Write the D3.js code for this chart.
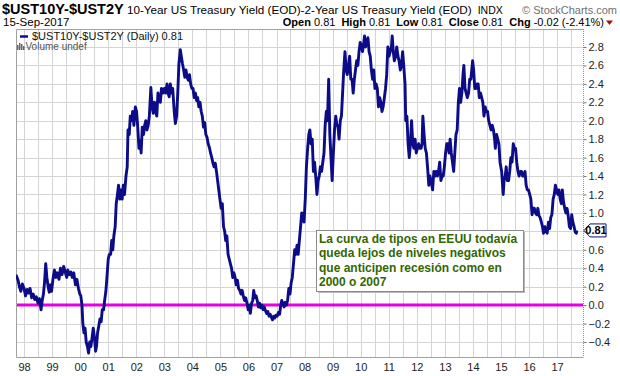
<!DOCTYPE html>
<html><head><meta charset="utf-8">
<script src="https://cdn.jsdelivr.net/npm/d3@7"></script>
<style>
body{margin:0;background:#fff}
svg{display:block}
text{font-family:"Liberation Sans",Arial,sans-serif}
</style>
</head><body>
<svg id="chart" width="620" height="376"></svg>
<script>
// ---- data (10y - 2y spread) ----
const series = [
["1997-09-18",0.33],["1997-10-15",0.27],["1997-11-01",0.20],["1997-11-20",0.15],["1997-12-10",0.23],
["1998-01-01",0.18],["1998-01-20",0.10],["1998-02-10",0.17],["1998-03-01",0.13],["1998-03-20",0.18],["1998-04-10",0.08],["1998-05-01",0.12],["1998-05-20",0.06],["1998-06-10",0.09],["1998-07-01",0.02],["1998-07-20",0.07],["1998-08-10",-0.05],["1998-08-25",0.05],["1998-09-10",0.12],["1998-09-25",0.25],["1998-10-10",0.45],["1998-10-25",0.30],["1998-11-10",0.20],["1998-11-25",0.14],["1998-12-10",0.22],["1998-12-25",0.15],
["1999-01-15",0.30],["1999-02-01",0.38],["1999-02-20",0.30],["1999-03-10",0.35],["1999-04-01",0.28],["1999-04-20",0.40],["1999-05-10",0.33],["1999-06-01",0.42],["1999-06-20",0.36],["1999-07-10",0.30],["1999-07-25",0.38],["1999-08-10",0.33],["1999-09-01",0.36],["1999-09-20",0.30],["1999-10-10",0.35],["1999-11-01",0.22],["1999-11-20",0.28],["1999-12-10",0.18],["1999-12-28",0.12],
["2000-01-10",0.10],["2000-01-25",0.00],["2000-02-05",-0.20],["2000-02-20",-0.30],["2000-03-05",-0.25],["2000-03-20",-0.40],["2000-04-05",-0.45],["2000-04-20",-0.52],["2000-05-05",-0.40],["2000-05-20",-0.45],["2000-06-05",-0.35],["2000-06-20",-0.25],["2000-07-05",-0.35],["2000-07-20",-0.50],["2000-08-01",-0.45],["2000-08-15",-0.30],["2000-09-01",-0.22],["2000-09-15",-0.15],["2000-10-01",-0.18],["2000-10-15",-0.05],["2000-11-01",-0.05],["2000-11-15",0.05],["2000-12-01",0.15],["2000-12-15",0.30],
["2001-01-01",0.50],["2001-01-15",0.55],["2001-02-01",0.55],["2001-02-15",0.70],["2001-03-01",0.60],["2001-03-15",0.75],["2001-04-01",0.85],["2001-04-15",1.10],["2001-05-01",1.20],["2001-05-15",1.30],["2001-06-01",1.15],["2001-06-15",1.25],["2001-07-01",1.15],["2001-07-15",1.30],["2001-08-01",1.20],["2001-08-20",1.40],["2001-09-05",1.50],["2001-09-15",1.90],["2001-10-01",1.85],["2001-10-15",2.05],["2001-11-01",2.00],["2001-11-15",2.10],["2001-12-01",1.95],["2001-12-20",2.15],
["2002-01-05",2.10],["2002-01-20",1.93],["2002-02-05",1.70],["2002-02-20",1.78],["2002-03-05",1.65],["2002-03-20",1.93],["2002-04-05",1.85],["2002-04-20",1.95],["2002-05-05",2.00],["2002-05-20",1.90],["2002-06-05",1.95],["2002-06-20",2.05],["2002-07-10",2.36],["2002-07-25",2.15],["2002-08-10",2.08],["2002-08-25",2.20],["2002-09-10",2.10],["2002-09-25",2.05],["2002-10-10",2.30],["2002-10-25",2.25],["2002-11-10",2.20],["2002-11-25",2.35],["2002-12-15",2.30],
["2003-01-01",2.35],["2003-01-20",2.30],["2003-02-05",2.40],["2003-02-20",2.30],["2003-03-05",2.26],["2003-03-20",2.40],["2003-04-05",2.30],["2003-04-20",2.35],["2003-05-10",2.10],["2003-05-25",1.97],["2003-06-10",2.05],["2003-06-25",2.30],["2003-07-10",2.62],["2003-07-28",2.77],["2003-08-10",2.70],["2003-08-25",2.62],["2003-09-10",2.55],["2003-09-25",2.47],["2003-10-10",2.55],["2003-10-25",2.47],["2003-11-10",2.44],["2003-11-25",2.50],["2003-12-10",2.40],["2003-12-25",2.35],
["2004-01-10",2.35],["2004-01-25",2.25],["2004-02-10",2.30],["2004-02-25",2.22],["2004-03-10",2.25],["2004-03-25",2.15],["2004-04-10",2.20],["2004-04-25",2.10],["2004-05-10",2.05],["2004-05-25",1.93],["2004-06-10",1.98],["2004-06-25",1.85],["2004-07-10",1.82],["2004-07-25",1.75],["2004-08-10",1.71],["2004-08-25",1.65],["2004-09-10",1.60],["2004-09-25",1.54],["2004-10-10",1.50],["2004-10-25",1.54],["2004-11-10",1.45],["2004-11-25",1.35],["2004-12-10",1.25],["2004-12-25",1.15],
["2005-01-10",1.05],["2005-01-25",1.10],["2005-02-10",0.85],["2005-02-25",0.80],["2005-03-10",0.70],["2005-03-25",0.75],["2005-04-10",0.55],["2005-04-25",0.50],["2005-05-10",0.45],["2005-05-25",0.40],["2005-06-10",0.30],["2005-06-25",0.35],["2005-07-10",0.30],["2005-07-25",0.22],["2005-08-10",0.27],["2005-08-25",0.18],["2005-09-10",0.16],["2005-09-25",0.12],["2005-10-10",0.16],["2005-10-25",0.10],["2005-11-10",0.05],["2005-11-25",0.08],["2005-12-10",0.03],["2005-12-28",-0.05],
["2006-01-10",0.00],["2006-01-25",-0.09],["2006-02-10",0.02],["2006-02-25",0.05],["2006-03-10",0.16],["2006-03-25",0.08],["2006-04-10",0.10],["2006-04-25",0.05],["2006-05-10",-0.02],["2006-05-25",0.02],["2006-06-10",-0.03],["2006-06-25",0.00],["2006-07-10",-0.05],["2006-07-25",-0.02],["2006-08-10",-0.06],["2006-08-25",-0.09],["2006-09-10",-0.07],["2006-09-25",-0.12],["2006-10-10",-0.10],["2006-10-25",-0.13],["2006-11-10",-0.16],["2006-11-25",-0.12],["2006-12-10",-0.14],["2006-12-25",-0.11],
["2007-01-10",-0.12],["2007-01-25",-0.08],["2007-02-10",-0.10],["2007-02-25",0.00],["2007-03-10",0.05],["2007-03-25",0.02],["2007-04-10",-0.02],["2007-04-25",0.03],["2007-05-10",0.00],["2007-05-25",0.05],["2007-06-10",0.18],["2007-06-25",0.12],["2007-07-10",0.24],["2007-07-25",0.30],["2007-08-10",0.45],["2007-08-25",0.60],["2007-09-10",0.55],["2007-09-25",0.65],["2007-10-10",0.55],["2007-10-25",0.70],["2007-11-10",0.85],["2007-11-25",1.00],["2007-12-10",0.95],["2007-12-25",0.90],
["2008-01-10",1.15],["2008-01-25",1.50],["2008-02-10",1.70],["2008-02-25",1.85],["2008-03-10",1.90],["2008-03-25",1.75],["2008-04-10",1.80],["2008-04-25",1.45],["2008-05-10",1.55],["2008-05-25",1.40],["2008-06-10",1.20],["2008-06-25",1.35],["2008-07-10",1.40],["2008-07-25",1.50],["2008-08-10",1.45],["2008-08-25",1.55],["2008-09-10",1.65],["2008-09-25",1.95],["2008-10-10",2.10],["2008-10-25",2.00],["2008-11-10",2.45],["2008-11-25",1.85],["2008-12-10",1.60],["2008-12-25",1.35],
["2009-01-10",1.65],["2009-01-25",1.90],["2009-02-10",2.05],["2009-02-25",1.95],["2009-03-10",1.95],["2009-03-25",1.80],["2009-04-10",2.00],["2009-04-25",2.05],["2009-05-10",2.30],["2009-05-25",2.55],["2009-06-10",2.75],["2009-06-25",2.55],["2009-07-10",2.50],["2009-07-25",2.60],["2009-08-10",2.70],["2009-08-25",2.45],["2009-09-10",2.45],["2009-09-25",2.30],["2009-10-10",2.45],["2009-10-25",2.55],["2009-11-10",2.65],["2009-11-25",2.60],["2009-12-10",2.75],["2009-12-25",2.85],
["2010-01-10",2.80],["2010-01-25",2.75],["2010-02-10",2.85],["2010-02-20",2.92],["2010-03-05",2.80],["2010-03-20",2.85],["2010-04-05",2.90],["2010-04-20",2.75],["2010-05-05",2.70],["2010-05-20",2.55],["2010-06-05",2.45],["2010-06-20",2.55],["2010-07-05",2.35],["2010-07-20",2.40],["2010-08-05",2.35],["2010-08-20",2.15],["2010-09-05",2.25],["2010-09-20",2.20],["2010-10-05",2.10],["2010-10-20",2.15],["2010-11-05",2.25],["2010-11-20",2.35],["2010-12-05",2.50],["2010-12-20",2.80],
["2011-01-05",2.70],["2011-01-20",2.75],["2011-02-05",2.80],["2011-02-15",2.92],["2011-03-01",2.75],["2011-03-15",2.65],["2011-04-01",2.70],["2011-04-15",2.80],["2011-05-01",2.70],["2011-05-15",2.65],["2011-06-01",2.55],["2011-06-15",2.60],["2011-07-01",2.75],["2011-07-15",2.60],["2011-08-01",2.40],["2011-08-10",2.00],["2011-08-25",2.05],["2011-09-10",1.75],["2011-09-25",1.60],["2011-10-10",1.75],["2011-10-25",2.00],["2011-11-10",1.75],["2011-11-25",1.70],["2011-12-10",1.80],["2011-12-25",1.65],
["2012-01-10",1.70],["2012-01-25",1.75],["2012-02-10",1.70],["2012-02-25",1.70],["2012-03-10",1.75],["2012-03-20",2.05],["2012-04-05",1.85],["2012-04-20",1.70],["2012-05-05",1.65],["2012-05-20",1.50],["2012-06-05",1.30],["2012-06-20",1.40],["2012-07-05",1.35],["2012-07-25",1.25],["2012-08-10",1.45],["2012-08-25",1.40],["2012-09-10",1.45],["2012-09-25",1.40],["2012-10-10",1.45],["2012-10-25",1.55],["2012-11-10",1.35],["2012-11-25",1.40],["2012-12-10",1.40],["2012-12-25",1.50],
["2013-01-10",1.65],["2013-01-25",1.75],["2013-02-10",1.75],["2013-02-25",1.65],["2013-03-10",1.80],["2013-03-25",1.65],["2013-04-10",1.55],["2013-04-25",1.45],["2013-05-10",1.65],["2013-05-25",1.85],["2013-06-10",1.90],["2013-06-25",2.20],["2013-07-10",2.35],["2013-07-25",2.20],["2013-08-10",2.30],["2013-08-25",2.50],["2013-09-05",2.60],["2013-09-20",2.35],["2013-10-05",2.30],["2013-10-20",2.25],["2013-11-05",2.30],["2013-11-20",2.45],["2013-12-05",2.45],["2013-12-28",2.65],
["2014-01-10",2.55],["2014-01-25",2.35],["2014-02-10",2.35],["2014-02-25",2.40],["2014-03-10",2.40],["2014-03-25",2.25],["2014-04-10",2.30],["2014-04-25",2.25],["2014-05-10",2.20],["2014-05-25",2.05],["2014-06-10",2.15],["2014-06-25",2.10],["2014-07-10",2.10],["2014-07-25",2.00],["2014-08-10",1.95],["2014-08-25",1.90],["2014-09-10",1.95],["2014-09-25",1.90],["2014-10-10",1.80],["2014-10-20",1.70],["2014-11-05",1.85],["2014-11-20",1.80],["2014-12-05",1.75],["2014-12-20",1.55],
["2015-01-10",1.45],["2015-01-30",1.20],["2015-02-10",1.35],["2015-02-25",1.40],["2015-03-10",1.50],["2015-03-25",1.35],["2015-04-10",1.35],["2015-04-25",1.45],["2015-05-10",1.60],["2015-05-25",1.55],["2015-06-10",1.75],["2015-06-25",1.70],["2015-07-10",1.70],["2015-07-25",1.55],["2015-08-10",1.45],["2015-08-25",1.40],["2015-09-10",1.45],["2015-09-25",1.45],["2015-10-10",1.40],["2015-10-25",1.40],["2015-11-10",1.45],["2015-11-25",1.30],["2015-12-10",1.25],["2015-12-25",1.25],
["2016-01-10",1.20],["2016-01-25",1.15],["2016-02-10",0.98],["2016-02-25",1.05],["2016-03-10",1.05],["2016-03-25",1.00],["2016-04-10",0.98],["2016-04-25",1.05],["2016-05-10",0.97],["2016-05-25",0.95],["2016-06-10",0.90],["2016-06-25",0.85],["2016-07-08",0.78],["2016-07-25",0.85],["2016-08-10",0.80],["2016-08-25",0.78],["2016-09-10",0.90],["2016-09-25",0.83],["2016-10-10",0.95],["2016-10-25",0.98],["2016-11-10",1.15],["2016-11-25",1.20],["2016-12-10",1.30],["2016-12-25",1.25],
["2017-01-10",1.20],["2017-01-25",1.25],["2017-02-10",1.15],["2017-02-25",1.10],["2017-03-10",1.25],["2017-03-25",1.12],["2017-04-10",1.05],["2017-04-25",1.00],["2017-05-10",1.05],["2017-05-25",0.97],["2017-06-10",0.85],["2017-06-25",0.83],["2017-07-10",0.98],["2017-07-25",0.90],["2017-08-10",0.85],["2017-08-25",0.79],["2017-09-08",0.78],["2017-09-15",0.81]
];
const yTickValues = [-0.4,-0.2,0.0,0.2,0.4,0.6,0.8,1.0,1.2,1.4,1.6,1.8,2.0,2.2,2.4,2.6,2.8];
const yearLabels = [1998,1999,2000,2001,2002,2003,2004,2005,2006,2007,2008,2009,2010,2011,2012,2013,2014,2015,2016,2017];
const referenceLevel = 0;
const lastValue = 0.81;
const titleSymbol = "$UST10Y-$UST2Y";
const titleName = " 10-Year US Treasury Yield (EOD)-2-Year US Treasury Yield (EOD)";
const dateLabel = "15-Sep-2017";
const quote = [["Open","0.81"],["High","0.81"],["Low","0.81"],["Close","0.81"],["Chg","-0.02 (-2.41%)"]];
const noteLines = ["La curva de tipos en EEUU todavía","queda lejos de niveles negativos","que anticipen recesión como en","2000 o 2007"];

// ---- layout ----
const L = 16, R = 583, T = 29, B = 357;
const svg = d3.select("#chart");
const parse = d3.timeParse("%Y-%m-%d");
const data = series.map(d => ({date: parse(d[0]), value: d[1]}));

const x = d3.scaleTime().domain([new Date(1997, 8, 18), new Date(2017, 11, 4)]).range([L, R]);
const y = d3.scaleLinear().domain([-0.563, 2.995]).range([B, T]);

// grid
const grid = svg.append("g");
const halfYears = d3.timeMonth.every(6).range(x.domain()[0], x.domain()[1]);
grid.selectAll("line.v").data(halfYears).join("line")
  .attr("x1", d => Math.round(x(d)) + 0.5).attr("x2", d => Math.round(x(d)) + 0.5)
  .attr("y1", T).attr("y2", B).attr("stroke", "#d4d4d4").attr("stroke-width", 1);
const hVals = d3.range(-0.4, 2.81, 0.2);
grid.selectAll("line.h").data(hVals).join("line")
  .attr("x1", L).attr("x2", R)
  .attr("y1", d => Math.round(y(d)) + 0.5).attr("y2", d => Math.round(y(d)) + 0.5)
  .attr("stroke", "#d4d4d4").attr("stroke-width", 1);

// frame
svg.append("path").attr("d", `M${R+0.5},${T+0.5}H${L+0.5}V${B+0.5}H${R+0.5}`)
  .attr("fill", "none").attr("stroke", "#a0a0a0");
svg.append("line").attr("x1", R + 0.5).attr("x2", R + 0.5).attr("y1", T).attr("y2", B)
  .attr("stroke", "#909090").attr("stroke-dasharray", "1,1");

// right axis (the 0.8 label sits under the last-value tag, as in the reference)
const yAxis = d3.axisRight(y).tickValues(yTickValues)
  .tickFormat(d => Math.abs(d - lastValue) < 0.1 ? "" : d3.format(".1f")(d))
  .tickSize(3).tickPadding(2);
const ya = svg.append("g").attr("transform", `translate(${R + 0.5},0)`).call(yAxis);
ya.select(".domain").remove();
ya.selectAll("line").attr("stroke", "#777");
ya.selectAll("text").attr("font-size", 11).attr("fill", "#222").attr("font-family", "Liberation Sans, Arial, sans-serif");

// bottom axis labels
const xa = svg.append("g").attr("transform", `translate(0,${B})`)
  .call(d3.axisBottom(x).tickValues(yearLabels.map(yr => new Date(yr, 0, 1))).tickFormat(d3.timeFormat("%y")).tickSize(0).tickPadding(6));
xa.select(".domain").remove();
xa.selectAll("text").attr("font-size", 11).attr("fill", "#222").attr("font-family", "Liberation Sans, Arial, sans-serif");

// zero line
svg.append("line").attr("x1", L + 1).attr("x2", R).attr("y1", y(referenceLevel)).attr("y2", y(referenceLevel))
  .attr("stroke", "#e600e6").attr("stroke-width", 3);

// series line
svg.append("defs").append("clipPath").attr("id", "clip").append("rect")
  .attr("x", L).attr("y", T).attr("width", R - L).attr("height", B - T);
svg.append("path").datum(data)
  .attr("clip-path", "url(#clip)")
  .attr("d", d3.line().x(d => x(d.date)).y(d => y(d.value)))
  .attr("fill", "none").attr("stroke", "#0c0c88").attr("stroke-width", 2.9)
  .attr("stroke-linejoin", "round");

// header
const h1 = svg.append("text").attr("x", 2).attr("y", 14);
h1.append("tspan").attr("font-weight", "bold").attr("font-size", 14.5).text(titleSymbol);
h1.append("tspan").attr("font-size", 11.7).text(titleName);
h1.append("tspan").attr("font-size", 10.5).attr("dx", 6).text("INDX");
svg.append("text").attr("x", 617).attr("y", 14).attr("text-anchor", "end")
  .attr("font-size", 11).attr("fill", "#707070").text("© StockCharts.com");

svg.append("text").attr("x", 3).attr("y", 26).attr("font-size", 11.5).text(dateLabel);
const q = svg.append("text").attr("x", 604).attr("y", 26).attr("text-anchor", "end").attr("font-size", 11);
quote.forEach((p, i) => {
  q.append("tspan").attr("font-weight", "bold").attr("dx", i ? 6 : 0).text(p[0]);
  q.append("tspan").text(" " + p[1]);
});
svg.append("path").attr("d", "M606,20.5h7l-3.5,4.5z").attr("fill", "#a01010");

// legend
svg.append("line").attr("x1", 20).attr("x2", 28).attr("y1", 36.5).attr("y2", 36.5)
  .attr("stroke", "#0c0c88").attr("stroke-width", 2.5);
svg.append("text").attr("x", 32).attr("y", 40).attr("font-size", 11)
  .attr("font-family", "DejaVu Sans, Verdana, sans-serif").attr("fill", "#111")
  .text("$UST10Y-$UST2Y (Daily) 0.81");
const icon = svg.append("g").attr("fill", "#666");
[[17,45,1.5,5],[19,43,1.5,7],[21,44,1.5,6],[23,46,1.5,4]].forEach(r =>
  icon.append("rect").attr("x", r[0]).attr("y", r[1]).attr("width", r[2]).attr("height", r[3]));
svg.append("text").attr("x", 25.5).attr("y", 50).attr("font-size", 10)
  .attr("font-family", "DejaVu Sans, Verdana, sans-serif").attr("fill", "#555").text("Volume undef");

// last value tag
const ly = y(lastValue);
svg.append("path").attr("d", `M${R+1},${ly}L${R+7},${ly-6.5}H606V${ly+6.5}H${R+7}Z`)
  .attr("fill", "#fff").attr("stroke", "#0c0c88").attr("stroke-width", 1);
svg.append("text").attr("x", 596).attr("y", ly + 4).attr("text-anchor", "middle")
  .attr("font-size", 11).attr("font-weight", "bold").attr("fill", "#000").text(lastValue.toFixed(2));

// annotation
const bx = 316, by = 230, bw = 207, bh = 61;
svg.append("rect").attr("x", bx + 2).attr("y", by + 2).attr("width", bw).attr("height", bh)
  .attr("fill", "#b8b8b8");
svg.append("rect").attr("x", bx + 0.5).attr("y", by + 0.5).attr("width", bw).attr("height", bh)
  .attr("fill", "#fff").attr("stroke", "#8a8a8a");
const nt = svg.append("text").attr("font-size", 12).attr("font-weight", "bold").attr("fill", "#336600");
noteLines.forEach((s, i) => nt.append("tspan").attr("x", bx + 3).attr("y", by + 13 + i * 14.3).text(s));
</script>
</body></html>
